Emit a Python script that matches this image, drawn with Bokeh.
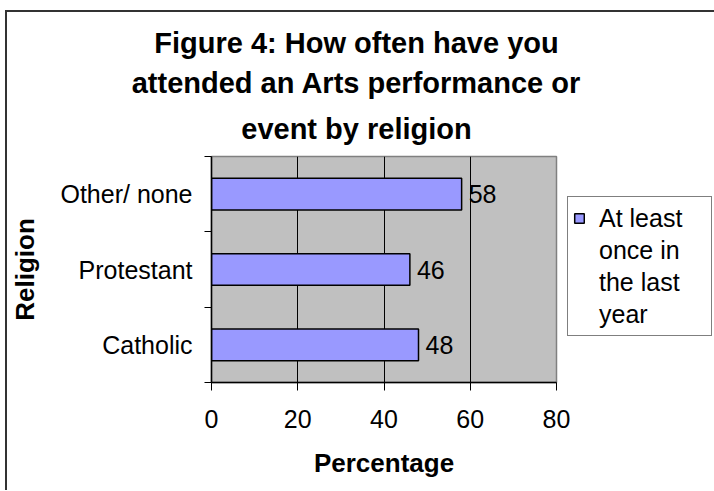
from bokeh.plotting import figure
from bokeh.models import (Range1d, LinearAxis, FixedTicker, Grid, Title,
                          ColumnDataSource, LabelSet, Legend, LegendItem)
from bokeh.core.properties import value
from bokeh.embed import file_html
from bokeh.resources import INLINE

# ---- data ----
categories = ["Catholic", "Protestant", "Other/ none"]
values = [48, 46, 58]
series_lines = ["At least", "once in", "the last", "year"]
x_ticks = [0, 20, 40, 60, 80]
title_lines = ["Figure 4: How often have you",
               "attended an Arts performance or",
               "event by religion"]
x_label = "Percentage"
y_label = "Religion"

FONT = "Liberation Sans"
W, H = 705, 478
FRAME_W, FRAME_H = 345, 226
FL, FT = 204, 144          # frame offset inside the canvas

N = len(categories)
cat_pos = [i + 0.5 for i in range(N)]

p = figure(frame_width=FRAME_W, frame_height=FRAME_H,
           y_range=Range1d(0, N), x_range=Range1d(0, 80),
           x_axis_location=None, y_axis_location=None, title_location=None,
           output_backend="svg", toolbar_location=None,
           min_border_left=FL, min_border_right=W - FL - FRAME_W,
           min_border_top=FT, min_border_bottom=H - FT - FRAME_H)
p.styles = {"position": "relative", "left": "5px", "top": "10px",
            "border-left": "2px solid #333333", "border-top": "2px solid #333333"}
p.center = [c for c in p.center if not isinstance(c, Grid)]
p.background_fill_color = "#C0C0C0"
p.border_fill_color = "white"
p.outline_line_color = "#808080"
p.outline_line_width = 1.5

# grid
grid = Grid(dimension=0, ticker=FixedTicker(ticks=x_ticks[1:-1]),
            grid_line_color="black", grid_line_width=1)
p.add_layout(grid)

# bottom axis
xaxis = LinearAxis(ticker=FixedTicker(ticks=x_ticks), axis_label=x_label,
                   major_tick_out=8, major_tick_in=0, minor_tick_line_color=None,
                   axis_line_color="black", axis_line_width=1.5,
                   major_tick_line_color="black", major_tick_line_width=1,
                   major_label_text_font=FONT, major_label_text_font_size="25px",
                   major_label_text_color="black", major_label_standoff=19,
                   axis_label_text_font=FONT, axis_label_text_font_size="26px",
                   axis_label_text_font_style="bold", axis_label_text_color="black",
                   axis_label_standoff=17)
p.add_layout(xaxis, "below")

# left boundary tick axis (ticks between categories)
bnd = list(range(N + 1))
tick_axis = LinearAxis(ticker=FixedTicker(ticks=bnd),
                       major_label_overrides={b: "" for b in bnd},
                       major_tick_out=7, major_tick_in=0, minor_tick_line_color=None,
                       axis_line_color="black", axis_line_width=1.5,
                       major_tick_line_color="black", major_label_standoff=0)
p.add_layout(tick_axis, "left")

# category label axis
cat_axis = LinearAxis(ticker=FixedTicker(ticks=cat_pos),
                      major_label_overrides={pos: c for pos, c in zip(cat_pos, categories)},
                      axis_label=y_label,
                      major_tick_line_color=None, minor_tick_line_color=None,
                      axis_line_color=None,
                      major_label_standoff=6,
                      major_label_text_font=FONT, major_label_text_font_size="25px",
                      major_label_text_color="black",
                      axis_label_text_font=FONT, axis_label_text_font_size="26px",
                      axis_label_text_font_style="bold", axis_label_text_color="black",
                      axis_label_standoff=17)
p.add_layout(cat_axis, "left")

src = ColumnDataSource(dict(pos=cat_pos, cat=categories, val=values,
                            lbl=[str(v) for v in values]))
r = p.hbar(y="pos", right="val", left=0, height=0.42, source=src,
           fill_color="#9999FF", line_color="black", line_width=1.5)
# invisible renderer used for the continuation lines of the legend text
blank = p.hbar(y=[], right=[], height=0.42, fill_alpha=0, line_alpha=0)

labels = LabelSet(x="val", y="pos", text="lbl", source=src, x_offset=7,
                  text_baseline="middle", text_align="left",
                  text_font=value(FONT), text_font_size="25px", text_color="black")
p.add_layout(labels)

# title lines, innermost first; offsets centre each line at the chart centre
BOLD_W = {" ": 278, "F": 611, "i": 278, "g": 611, "u": 611, "r": 389, "e": 556,
          "4": 556, ":": 333, "H": 722, "o": 611, "w": 778, "f": 333, "t": 333,
          "n": 611, "h": 611, "a": 556, "v": 556, "y": 556, "d": 611, "A": 722,
          "s": 556, "p": 611, "m": 889, "c": 556, "b": 611, "l": 278}
TSIZE = 29
CENTER_IN_FRAME = 349 - FL   # chart centre relative to frame left
for line, stand in zip(reversed(title_lines), [24, 0, 12]):
    w = sum(BOLD_W.get(ch, 556) for ch in line) / 1000 * TSIZE
    p.add_layout(Title(text=line, align="left", offset=CENTER_IN_FRAME - w / 2,
                       standoff=stand, text_font=FONT,
                       text_font_size=f"{TSIZE}px", text_font_style="bold",
                       text_color="black"), "above")

items = [LegendItem(label=series_lines[0], renderers=[r])]
items += [LegendItem(label=t, renderers=[blank]) for t in series_lines[1:]]
legend = Legend(items=items,
                location=(11, 46), margin=0, padding=5, spacing=0,
                glyph_width=12, glyph_height=12, label_standoff=14,
                label_width=107, label_height=32,
                label_text_font=FONT, label_text_font_size="25px",
                label_text_color="black",
                border_line_color="black", border_line_width=1.5,
                background_fill_color="white", background_fill_alpha=1)
p.add_layout(legend, "right")

open("out.html", "w").write(file_html(p, INLINE))
